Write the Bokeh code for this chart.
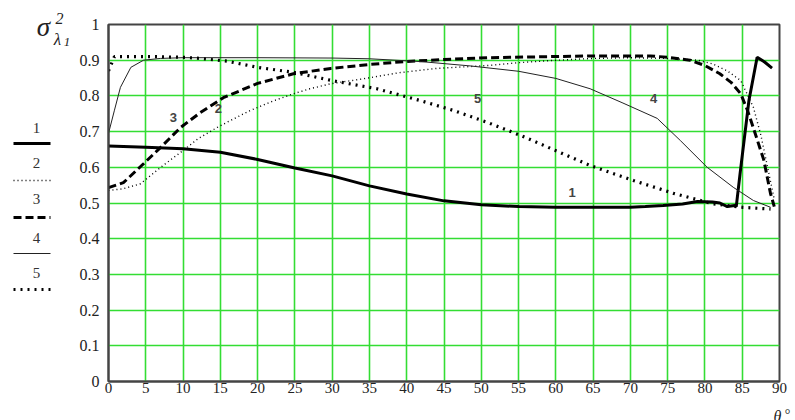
from bokeh.plotting import figure
from bokeh.layouts import row, column
from bokeh.models import Range1d, FixedTicker, Label
from bokeh.embed import file_html
from bokeh.resources import INLINE

# ---------------- data ----------------
theta1 = [0, 5, 10, 15, 20, 25, 30, 35, 40, 45, 50, 55, 60, 65, 70, 72, 74.4, 77, 79, 81, 82, 83, 84, 84.2, 84.7, 85.9, 87, 88, 89]
sig1 = [0.66, 0.656, 0.652, 0.642, 0.622, 0.598, 0.576, 0.548, 0.525, 0.506, 0.495, 0.49, 0.488, 0.488, 0.488, 0.49, 0.493, 0.497, 0.504, 0.503, 0.50, 0.49, 0.493, 0.49, 0.58, 0.787, 0.908, 0.895, 0.878]

theta2 = [0, 2, 4.3, 7, 10, 12, 14.6, 17, 19, 22, 24.8, 27, 29.8, 34.2, 39, 44, 50.8, 55, 59.3, 65, 70, 75, 79, 81, 83, 84.8, 86.5, 87.5, 88.4, 89.3]
sig2 = [0.535, 0.54, 0.554, 0.60, 0.647, 0.68, 0.712, 0.738, 0.759, 0.785, 0.806, 0.82, 0.834, 0.848, 0.865, 0.877, 0.885, 0.893, 0.899, 0.905, 0.907, 0.905, 0.9, 0.89, 0.87, 0.843, 0.768, 0.69, 0.6, 0.51]

theta3 = [0, 2, 4.7, 7, 9.7, 12.3, 15.4, 20, 24.8, 29.8, 35, 39.6, 45, 50.8, 59.3, 65, 72.7, 75, 78, 80, 82, 83.5, 84.8, 85.7, 86.5, 87.9, 88.8, 89.3]
sig3 = [0.543, 0.557, 0.61, 0.656, 0.712, 0.753, 0.795, 0.835, 0.862, 0.877, 0.888, 0.896, 0.902, 0.907, 0.91, 0.912, 0.912, 0.908, 0.9, 0.885, 0.862, 0.838, 0.806, 0.76, 0.71, 0.62, 0.526, 0.49]

theta4 = [0, 0.8, 1.6, 3, 4.7, 7, 10, 20, 30, 35, 42, 48.5, 55, 60, 64.6, 69, 73.6, 76.7, 80.3, 83.8, 86.5, 88.8]
sig4 = [0.695, 0.76, 0.824, 0.88, 0.9, 0.905, 0.907, 0.907, 0.906, 0.904, 0.896, 0.884, 0.869, 0.849, 0.82, 0.78, 0.737, 0.675, 0.6, 0.544, 0.507, 0.488]

theta5 = [0, 0.8, 3, 6, 10, 12.3, 16, 20, 24.8, 30.2, 36, 41.8, 46.3, 50.8, 55.3, 59.3, 64.6, 70.4, 75.8, 81, 85, 88.8]
sig5 = [0.87, 0.91, 0.91, 0.91, 0.908, 0.905, 0.897, 0.88, 0.866, 0.842, 0.82, 0.787, 0.759, 0.726, 0.689, 0.653, 0.605, 0.563, 0.527, 0.498, 0.488, 0.483]

x_ticks = [0, 5, 10, 15, 20, 25, 30, 35, 40, 45, 50, 55, 60, 65, 70, 75, 80, 85, 90]
y_ticks = [0, 0.1, 0.2, 0.3, 0.4, 0.5, 0.6, 0.7, 0.8, 0.9, 1]
y_tick_labels = ["0", "0.1", "0.2", "0.3", "0.4", "0.5", "0.6", "0.7", "0.8", "0.9", "1"]

series_names = ["1", "2", "3", "4", "5"]
curve_label_pos = [(62.2, 0.53), (14.75, 0.765), (8.7, 0.74), (73.1, 0.793), (49.5, 0.793)]

# styles: (width, dash, color)
styles = [
    (3.0, "solid", "black"),
    (1.4, "1 3", "black"),
    (3.0, "8 4", "black"),
    (1.0, "solid", "#222222"),
    (3.2, "2 5", "black"),
]

SERIF = "Liberation Serif"
GRID = "#33dd33"
W, H = 795, 420
MAIN_H = 399
LW = 70

# ---------------- left panel: y title and legend (pixel space) ----------------
leg = figure(width=LW, height=MAIN_H, output_backend="svg", toolbar_location=None,
             x_range=Range1d(0, LW), y_range=Range1d(MAIN_H, 0), min_border=0,
             x_axis_location=None, y_axis_location=None, title=None)
leg.grid.visible = False
leg.outline_line_color = None

def txt(fig, x, y, t, size, style="normal", font=SERIF, align="center", baseline="middle", color="#222222"):
    fig.add_layout(Label(x=x, y=y, text=t, text_font=font, text_font_style=style,
                         text_font_size=size, text_align=align, text_baseline=baseline,
                         text_color=color))

txt(leg, 43, 26.5, "σ", "27px", "italic")
txt(leg, 59, 18, "2", "16px", "italic")
txt(leg, 57, 39, "λ", "17px", "italic")
txt(leg, 66.5, 41.5, "1", "13px", "italic")

legend_text_y = [127, 162, 198, 237, 272]
legend_line_y = [143, 180, 217, 253, 289]
for name, ty, ly, (w, d, c) in zip(series_names, legend_text_y, legend_line_y, styles):
    txt(leg, 36, ty, name, "15px", color="#333333")
    leg.line([13, 50], [ly, ly], line_width=w, line_dash=d, line_color=c)

# ---------------- main plot ----------------
p = figure(width=W - LW, height=MAIN_H, output_backend="svg", toolbar_location=None,
           x_range=Range1d(0, 90), y_range=Range1d(0, 1),
           min_border_left=38, min_border_right=16, min_border_top=24, min_border_bottom=18)
p.background_fill_color = "white"
p.outline_line_color = "#444444"
p.outline_line_width = 2

p.xaxis.ticker = FixedTicker(ticks=x_ticks)
p.yaxis.ticker = FixedTicker(ticks=y_ticks)
p.yaxis.major_label_overrides = {t: s for t, s in zip(y_ticks, y_tick_labels)}
for ax in (p.xaxis, p.yaxis):
    ax.major_tick_line_color = None
    ax.minor_tick_line_color = None
    ax.major_tick_out = 0
    ax.major_tick_in = 0
    ax.minor_tick_out = 0
    ax.minor_tick_in = 0
    ax.axis_line_color = "#444444"
    ax.axis_line_width = 2
    ax.major_label_text_font = SERIF
    ax.major_label_text_color = "#222222"
p.yaxis.major_label_text_font_size = "16px"
p.xaxis.major_label_text_font_size = "15px"
p.yaxis.major_label_standoff = 9
p.xaxis.major_label_standoff = 1

p.grid.grid_line_color = GRID
p.grid.grid_line_width = 1.6
p.grid.grid_line_alpha = 1.0

thetas = [theta1, theta2, theta3, theta4, theta5]
sigs = [sig1, sig2, sig3, sig4, sig5]
for t, s, (w, d, c) in zip(thetas, sigs, styles):
    p.line(t, s, line_width=w, line_dash=d, line_color=c)

for name, (lx, lyv) in zip(series_names, curve_label_pos):
    txt(p, lx, lyv, name, "13px", "bold", font="Liberation Sans", color="#444444")

# ---------------- bottom strip: x title (pixel space) ----------------
strip = figure(width=W, height=H - MAIN_H, output_backend="svg", toolbar_location=None,
               x_range=Range1d(0, W), y_range=Range1d(H, MAIN_H), min_border=0,
               x_axis_location=None, y_axis_location=None, title=None)
strip.grid.visible = False
strip.outline_line_color = None
txt(strip, 777, 416, "θ", "16px", "italic", baseline="alphabetic")
txt(strip, 787, 414, "°", "14px", baseline="alphabetic")

layout = column(row(column(leg), p), row(strip))
open("out.html", "w").write(file_html(layout, INLINE))
